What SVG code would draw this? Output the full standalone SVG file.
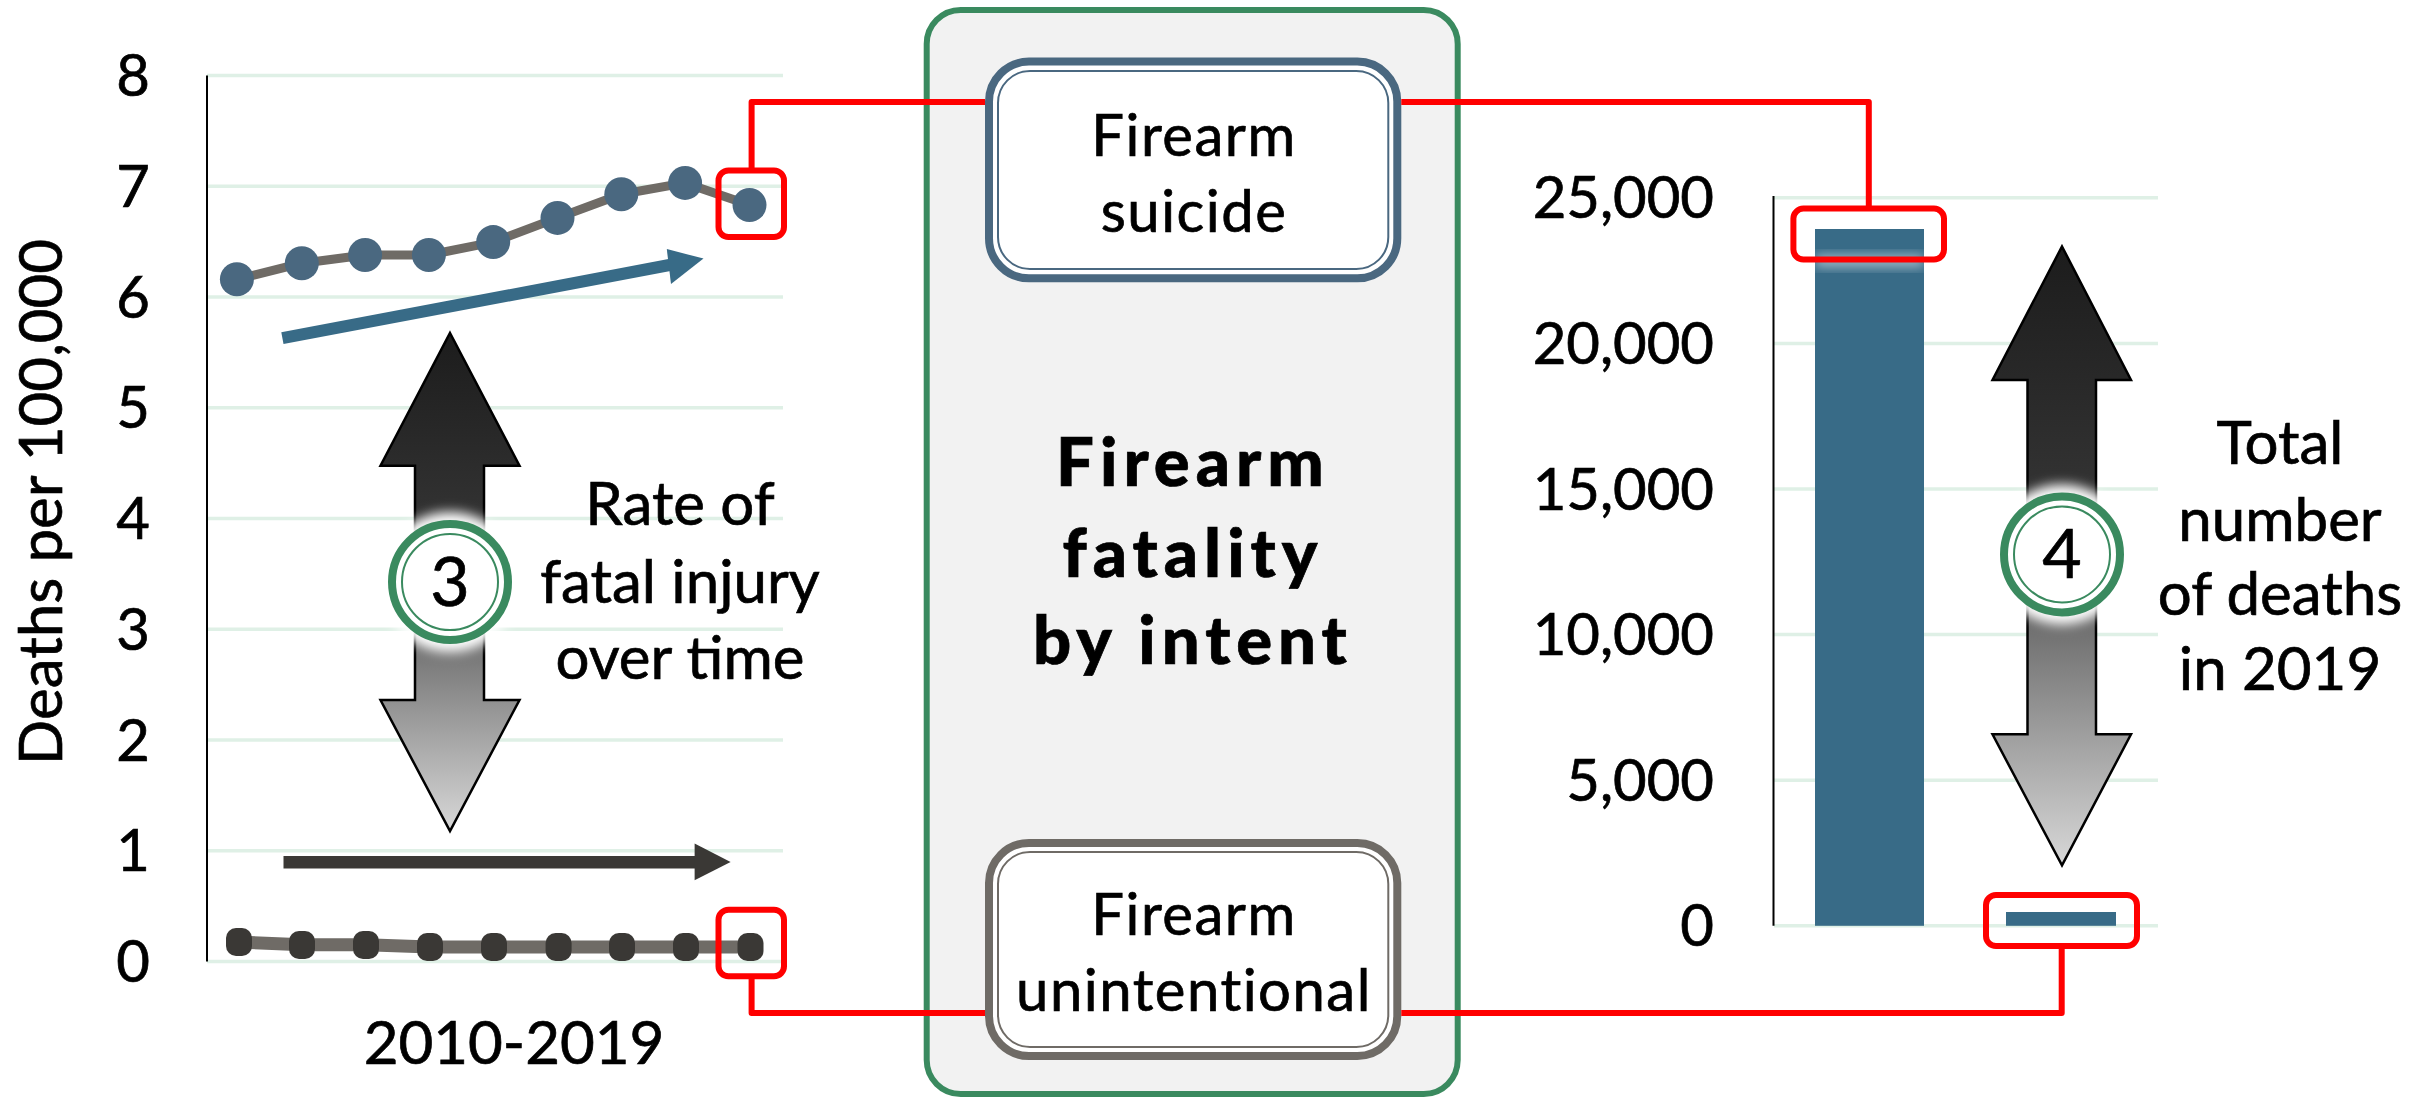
<svg xmlns="http://www.w3.org/2000/svg" width="2425" height="1101" viewBox="0 0 2425 1101">
<defs>
<style>
text{font-family:Lato,"Open Sans","Liberation Sans",sans-serif;fill:#000;stroke:#000;stroke-width:0.7px}
.ax{font-size:58px}
.lbl{font-size:60px;text-anchor:middle}
.grid{stroke:#dff0e6;stroke-width:3.5}
.axis{stroke:#000;stroke-width:2}
.red{fill:none;stroke:#ff0000;stroke-width:6;stroke-linejoin:round}
.box{font-size:58px;text-anchor:middle;letter-spacing:1.5px}
.title{font-size:67px;font-weight:900;text-anchor:middle;letter-spacing:6px;stroke-width:1.2px}
.sdot{fill:#4a6880}
.udot{fill:#3a3835}
.ring{fill:#fff;stroke:#3a8a5f;stroke-width:8}
.ring2{fill:none;stroke:#3a8a5f;stroke-width:2}
.num{font-size:68px;text-anchor:middle}
</style>
<linearGradient id="g3" gradientUnits="userSpaceOnUse" x1="0" y1="333" x2="0" y2="831">
<stop offset="0" stop-color="#1c1c1c"/>
<stop offset="0.38" stop-color="#333"/>
<stop offset="0.6" stop-color="#6b6b6b"/>
<stop offset="1" stop-color="#d8d8d8"/>
</linearGradient>
<linearGradient id="g4" gradientUnits="userSpaceOnUse" x1="0" y1="246" x2="0" y2="866">
<stop offset="0" stop-color="#1c1c1c"/>
<stop offset="0.4" stop-color="#333"/>
<stop offset="0.6" stop-color="#6b6b6b"/>
<stop offset="1" stop-color="#d8d8d8"/>
</linearGradient>
<filter id="glow" x="-50%" y="-50%" width="200%" height="200%">
<feGaussianBlur stdDeviation="6"/>
</filter>
</defs>
<rect width="2425" height="1101" fill="#fff"/>

<g id="left-chart">
<g id="left-grid">
<line class="grid" x1="207" y1="75.5" x2="783" y2="75.5"/>
<line class="grid" x1="207" y1="186.3" x2="783" y2="186.3"/>
<line class="grid" x1="207" y1="297" x2="783" y2="297"/>
<line class="grid" x1="207" y1="407.8" x2="783" y2="407.8"/>
<line class="grid" x1="207" y1="518.5" x2="783" y2="518.5"/>
<line class="grid" x1="207" y1="629.3" x2="783" y2="629.3"/>
<line class="grid" x1="207" y1="740" x2="783" y2="740"/>
<line class="grid" x1="207" y1="850.8" x2="783" y2="850.8"/>
<line class="grid" x1="207" y1="961.5" x2="783" y2="961.5"/>
<line class="axis" x1="207" y1="75.5" x2="207" y2="961.5"/>
</g>
<g id="left-ticks" class="ax" text-anchor="middle">
<text x="133" y="96">8</text>
<text x="133" y="207">7</text>
<text x="133" y="318">6</text>
<text x="133" y="428">5</text>
<text x="133" y="539">4</text>
<text x="133" y="650">3</text>
<text x="133" y="761">2</text>
<text x="133" y="871">1</text>
<text x="133" y="982">0</text>
</g>
<text id="left-ytitle" class="lbl" transform="translate(62,502) rotate(-90)" x="0" y="0">Deaths per 100,000</text>
<text id="left-xtitle" class="lbl" x="514" y="1064">2010-2019</text>

<g id="series-suicide">
<polyline points="236.9,279.3 301.8,263.2 365.1,255 428.9,255 493.2,242.1 557.5,217.9 621.3,194.3 685.1,182.9 749.5,205" fill="none" stroke="#6f6b66" stroke-width="9" stroke-linejoin="round"/>
<circle class="sdot" cx="236.9" cy="279.3" r="17"/>
<circle class="sdot" cx="301.8" cy="263.2" r="17"/>
<circle class="sdot" cx="365.1" cy="255" r="17"/>
<circle class="sdot" cx="428.9" cy="255" r="17"/>
<circle class="sdot" cx="493.2" cy="242.1" r="17"/>
<circle class="sdot" cx="557.5" cy="217.9" r="17"/>
<circle class="sdot" cx="621.3" cy="194.3" r="17"/>
<circle class="sdot" cx="685.1" cy="182.9" r="17"/>
<circle class="sdot" cx="749.5" cy="205" r="17"/>
</g>
<g id="series-unintentional">
<polyline points="239,942 302,944.8 366,944.8 430,947.1 494,947.1 558.6,947.1 622,947.1 686,947.1 750.5,947.1" fill="none" stroke="#6f6b66" stroke-width="13"/>
<rect class="udot" x="226" y="928" width="26" height="28" rx="10"/>
<rect class="udot" x="289" y="931" width="26" height="28" rx="10"/>
<rect class="udot" x="353" y="931" width="26" height="28" rx="10"/>
<rect class="udot" x="417" y="933" width="26" height="28" rx="10"/>
<rect class="udot" x="481" y="933" width="26" height="28" rx="10"/>
<rect class="udot" x="545.6" y="933" width="26" height="28" rx="10"/>
<rect class="udot" x="609" y="933" width="26" height="28" rx="10"/>
<rect class="udot" x="673" y="933" width="26" height="28" rx="10"/>
<rect class="udot" x="737.5" y="933" width="26" height="28" rx="10"/>
</g>

<g id="trend-suicide">
<line x1="282.4" y1="338.2" x2="680" y2="263" stroke="#386b87" stroke-width="12"/>
<polygon points="703.5,258.6 666.8,249 671,284" fill="#386b87"/>
</g>
<g id="trend-unintentional">
<rect x="283.5" y="856" width="413" height="12.5" fill="#3a3835"/>
<polygon points="694.6,843.6 730.6,862 694.6,880.2" fill="#3a3835"/>
</g>

<g id="rate-arrow">
<path d="M450,333 L519.5,465.7 L484,465.7 L484,700 L519.5,700 L450,831 L380.5,700 L415,700 L415,465.7 L380.5,465.7 Z" fill="url(#g3)" stroke="#000" stroke-width="2.5" stroke-linejoin="miter"/>
<circle cx="450" cy="582" r="70" fill="#fff" filter="url(#glow)"/>
<circle class="ring" cx="450" cy="582" r="58"/>
<circle class="ring2" cx="450" cy="582" r="48"/>
<text class="num" x="450" y="606">3</text>
</g>
<g id="rate-label" class="lbl">
<text x="680" y="525">Rate of</text>
<text x="680" y="603">fatal injury</text>
<text x="680" y="679">over time</text>
</g>
</g>

<g id="intent-container">
<rect x="926.7" y="10" width="531" height="1084" rx="34" fill="#f2f2f2" stroke="#3a8a5f" stroke-width="6"/>
<g class="title">
<text x="1193" y="486">Firearm</text>
<text x="1193" y="577">fatality</text>
<text x="1193" y="664">by intent</text>
</g>
</g>

<g id="node-suicide">
<rect x="989" y="61.6" width="408.3" height="216.7" rx="40" fill="#fff" stroke="#4a6880" stroke-width="8"/>
<rect x="998" y="71" width="390.3" height="198" rx="32" fill="none" stroke="#4a6880" stroke-width="2"/>
<text class="box" x="1194" y="156">Firearm</text>
<text class="box" x="1194" y="232">suicide</text>
</g>

<g id="node-unintentional">
<rect x="989" y="843" width="408.3" height="213" rx="40" fill="#fff" stroke="#6f6b66" stroke-width="8"/>
<rect x="998" y="852" width="390.3" height="195" rx="32" fill="none" stroke="#6f6b66" stroke-width="2"/>
<text class="box" x="1194" y="935">Firearm</text>
<text class="box" x="1194" y="1011">unintentional</text>
</g>

<g id="right-chart">
<g id="right-grid">
<line class="grid" x1="1774" y1="197.8" x2="2158" y2="197.8"/>
<line class="grid" x1="1774" y1="343.4" x2="2158" y2="343.4"/>
<line class="grid" x1="1774" y1="489" x2="2158" y2="489"/>
<line class="grid" x1="1774" y1="634.6" x2="2158" y2="634.6"/>
<line class="grid" x1="1774" y1="780.2" x2="2158" y2="780.2"/>
<line class="grid" x1="1774" y1="925.8" x2="2158" y2="925.8"/>
<line class="axis" x1="1773.5" y1="196" x2="1773.5" y2="925.8"/>
</g>
<g id="right-ticks" class="ax" text-anchor="end">
<text x="1714" y="218">25,000</text>
<text x="1714" y="364">20,000</text>
<text x="1714" y="510">15,000</text>
<text x="1714" y="655">10,000</text>
<text x="1714" y="801">5,000</text>
<text x="1714" y="946">0</text>
</g>
<g id="bars">
<rect x="1815" y="229" width="109" height="696.8" fill="#386b87"/>
<rect x="1815" y="255" width="109" height="12" fill="#fff" opacity="0.55" filter="url(#glow)"/>
<rect x="2006" y="912" width="110" height="13.8" fill="#386b87"/>
</g>
<g id="count-arrow">
<path d="M2062,246.5 L2131,380 L2096,380 L2096,734.3 L2131,734.3 L2062,865.4 L1992.5,734.3 L2027.5,734.3 L2027.5,380 L1992.5,380 Z" fill="url(#g4)" stroke="#000" stroke-width="2.5"/>
<circle cx="2062" cy="554.4" r="70" fill="#fff" filter="url(#glow)"/>
<circle class="ring" cx="2062" cy="554.4" r="58"/>
<circle class="ring2" cx="2062" cy="554.4" r="48"/>
<text class="num" x="2062" y="578">4</text>
</g>
<g id="count-label" class="lbl">
<text x="2280" y="464">Total</text>
<text x="2280" y="541">number</text>
<text x="2280" y="615">of deaths</text>
<text x="2280" y="690">in 2019</text>
</g>
</g>

<g id="highlights">
<rect class="red" x="718.5" y="170.5" width="65.5" height="66.5" rx="10"/>
<rect class="red" x="718.5" y="909.8" width="65.5" height="66.5" rx="10"/>
<rect class="red" x="1793.4" y="208.6" width="150.6" height="51" rx="10"/>
<rect class="red" x="1986" y="895" width="151" height="51" rx="10"/>
</g>

<g id="connectors">
<polyline class="red" points="751.6,170.5 751.6,102 985,102"/>
<polyline class="red" points="1401.3,102 1868.8,102 1868.8,208.6"/>
<polyline class="red" points="751.6,976.3 751.6,1013 985,1013"/>
<polyline class="red" points="1401.3,1013 2061.7,1013 2061.7,946"/>
</g>
</svg>
